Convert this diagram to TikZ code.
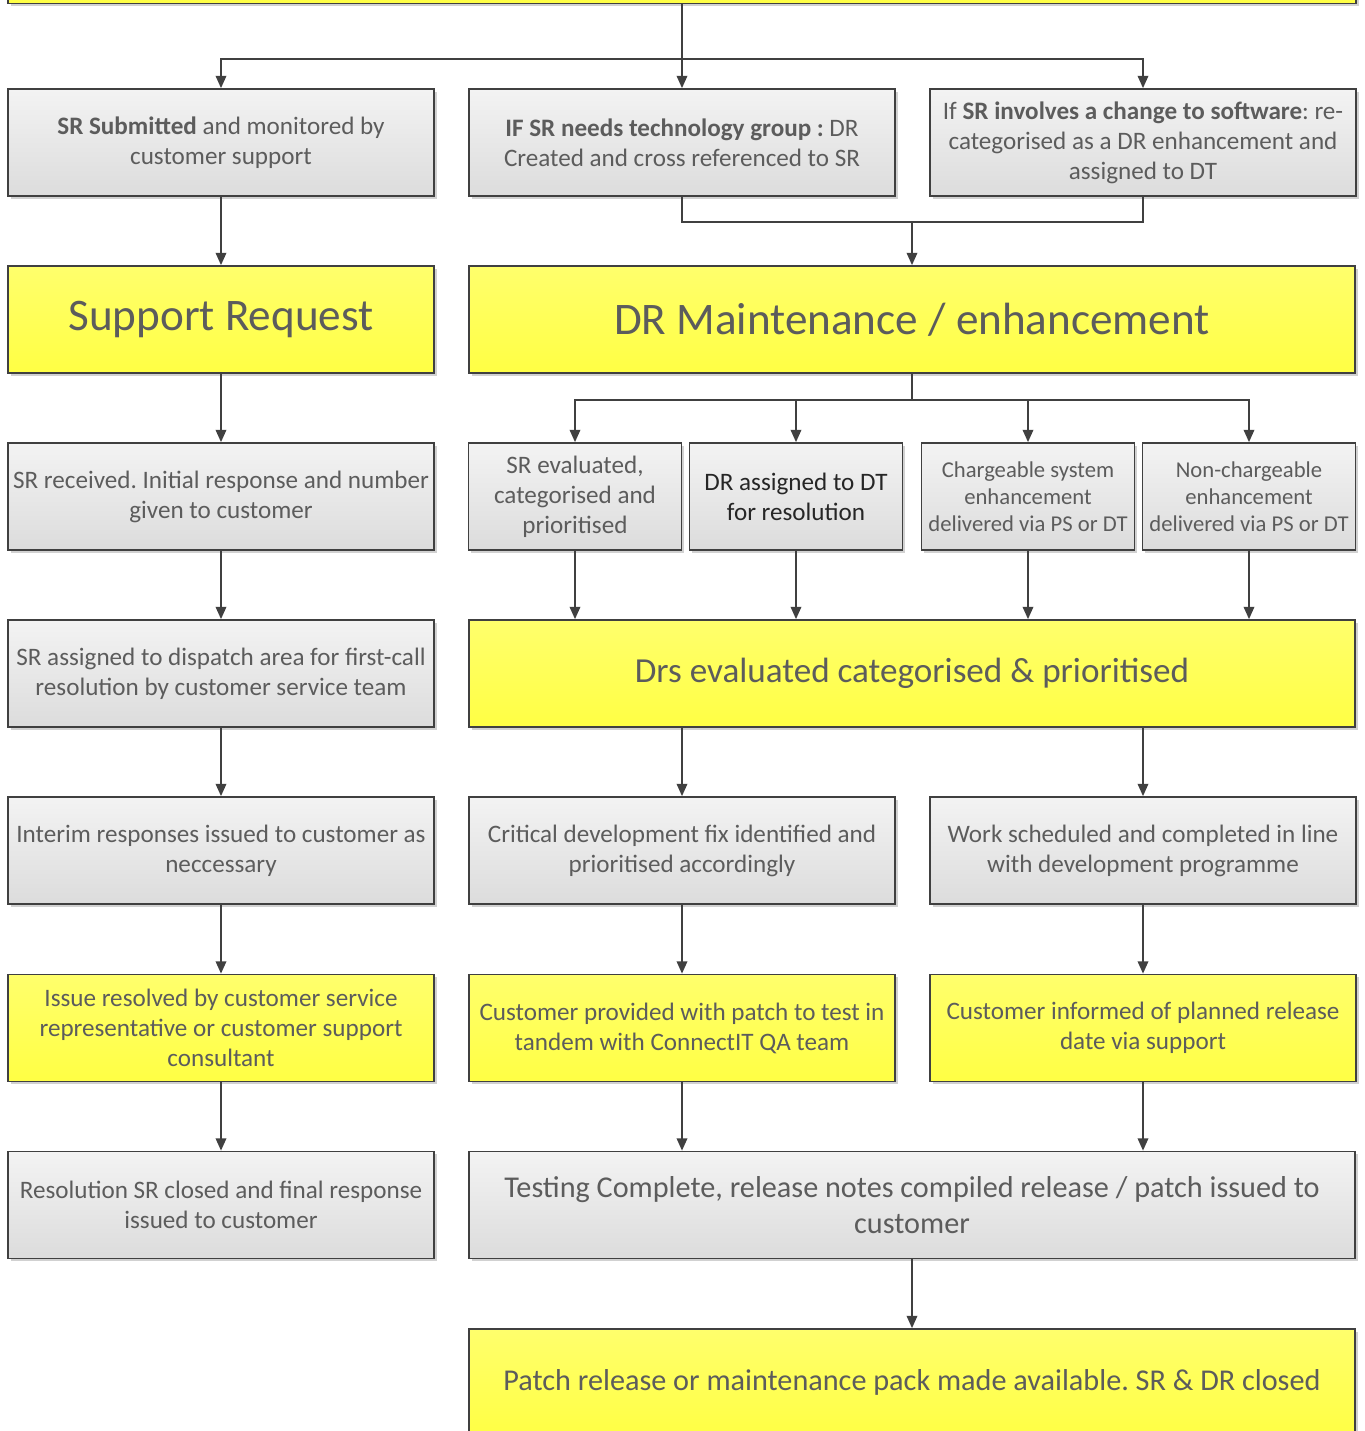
\documentclass[tikz,border=0pt]{standalone}
\usepackage{fontspec}
\setmainfont{Carlito}
\usepackage{xcolor}
\usetikzlibrary{arrows.meta,shadows}
\frenchspacing

\definecolor{txt}{HTML}{5C5C5C}
\definecolor{edge}{HTML}{404040}
\definecolor{ytop}{HTML}{FFFF6C}
\definecolor{ybot}{HTML}{FFFF44}
\definecolor{gtop}{HTML}{F3F3F3}
\definecolor{gbot}{HTML}{DCDCDC}

\tikzset{
  box/.style={draw=edge, line width=1pt, minimum height=2.14cm, inner sep=2pt, align=center,
    text=txt, font=\fontsize{14.3}{17}\selectfont,
    drop shadow={shadow xshift=1.6pt, shadow yshift=-1.6pt, opacity=.18, fill=black}},
  gbox/.style={box, top color=gtop, bottom color=gbot},
  ybox/.style={box, top color=ytop, bottom color=ybot},
  col/.style={minimum width=8.52cm},
  wide/.style={minimum width=17.72cm},
  narrow/.style={minimum width=4.26cm},
  link/.style={draw=edge, line width=1pt},
  arr/.style={link, -{Triangle[length=7pt,width=6pt]}},
}

\begin{document}
\begin{tikzpicture}[x=0.02cm, y=-0.02cm]
  % 1 unit = 1px of the 1365x1431 sheet, y downwards
  \path[use as bounding box] (0,0) rectangle (1365,1431);
  \clip (0,0) rectangle (1365,1431);

  % top strip, cut by the sheet edge
  \node[ybox, minimum width=26.96cm] (top) at (682,-50) {};

  % row 1
  \node[gbox,col] (subm) at (221,142.5) {\textbf{SR Submitted} and monitored by\\customer support};
  \node[gbox,col] (tech) at (682,142.5) {\textbf{IF SR needs technology group :} DR\\Created and cross referenced to SR};
  \node[gbox,col] (chg)  at (1143,142.5) {If \textbf{SR involves a change to software}: re-\\categorised as a DR enhancement and\\assigned to DT};

  % row 2
  \node[ybox,col,font=\fontsize{25.7}{30}\selectfont] (sreq) at (221,319.5) {Support Request};
  \node[ybox,wide,font=\fontsize{25.7}{30}\selectfont] (drm) at (912,319.5) {DR Maintenance / enhancement};

  % row 3
  \node[gbox,col] (recv) at (221,496.5) {SR received. Initial response and number\\given to customer};
  \node[gbox,narrow] (eval) at (575,496.5) {SR evaluated,\\categorised and\\prioritised};
  \node[gbox,narrow,text=black!85] (asgn) at (796,496.5) {DR assigned to DT\\for resolution};
  \node[gbox,narrow,font=\fontsize{12.9}{15.4}\selectfont] (chrg) at (1028,496.5) {Chargeable system\\enhancement\\delivered via PS or DT};
  \node[gbox,narrow,font=\fontsize{12.9}{15.4}\selectfont] (nchg) at (1249,496.5) {Non-chargeable\\enhancement\\delivered via PS or DT};

  % row 4
  \node[gbox,col] (disp) at (221,673.5) {SR assigned to dispatch area for first-call\\resolution by customer service team};
  \node[ybox,wide,font=\fontsize{20}{24}\selectfont] (drs) at (912,673.5) {Drs evaluated categorised \& prioritised};

  % row 5
  \node[gbox,col] (intr)  at (221,850.5) {Interim responses issued to customer as\\neccessary};
  \node[gbox,col] (crit)  at (682,850.5) {Critical development fix identified and\\prioritised accordingly};
  \node[gbox,col] (sched) at (1143,850.5) {Work scheduled and completed in line\\with development programme};

  % row 6
  \node[ybox,col] (res)  at (221,1028) {Issue resolved by customer service\\representative or customer support\\consultant};
  \node[ybox,col] (ptch) at (682,1028) {Customer provided with patch to test in\\tandem with ConnectIT QA team};
  \node[ybox,col] (inf)  at (1143,1028) {Customer informed of planned release\\date via support};

  % row 7 and 8
  \node[gbox,col] (clos) at (221,1205) {Resolution SR closed and final response\\issued to customer};
  \node[gbox,wide,font=\fontsize{17.2}{20.5}\selectfont] (test) at (912,1205) {Testing Complete, release notes compiled release / patch issued to\\customer};
  \node[ybox,wide,font=\fontsize{17.2}{20.5}\selectfont] (rel) at (912,1382.5) {Patch release or maintenance pack made available. SR \& DR closed};

  % fan out from the top strip
  \coordinate (j1) at (682,59);
  \draw[arr] (top) -- (tech);
  \draw[arr] (j1) -| (subm);
  \draw[arr] (j1) -| (chg);

  % merge into DR maintenance
  \coordinate (j2) at (912,222);
  \draw[link] (tech.south) |- (j2) -| (chg.south);
  \draw[arr] (j2) -- (drm);

  % DR maintenance into the four small boxes and back
  \coordinate (j3) at (912,400);
  \draw[link] (drm) -- (j3);
  \foreach \n in {eval,asgn,chrg,nchg} {
    \draw[arr] (j3) -| (\n);
    \draw[arr] (\n) -- (\n |- drs.north);
  }

  % right-hand chains
  \draw[arr] (crit |- drs.south) -- (crit);
  \draw[arr] (sched |- drs.south) -- (sched);
  \draw[arr] (crit) -- (ptch);
  \draw[arr] (sched) -- (inf);
  \draw[arr] (ptch) -- (ptch |- test.north);
  \draw[arr] (inf) -- (inf |- test.north);
  \draw[arr] (test) -- (rel);

  % support request chain
  \foreach \a/\b in {subm/sreq,sreq/recv,recv/disp,disp/intr,intr/res,res/clos}
    \draw[arr] (\a) -- (\b);
\end{tikzpicture}
\end{document}
